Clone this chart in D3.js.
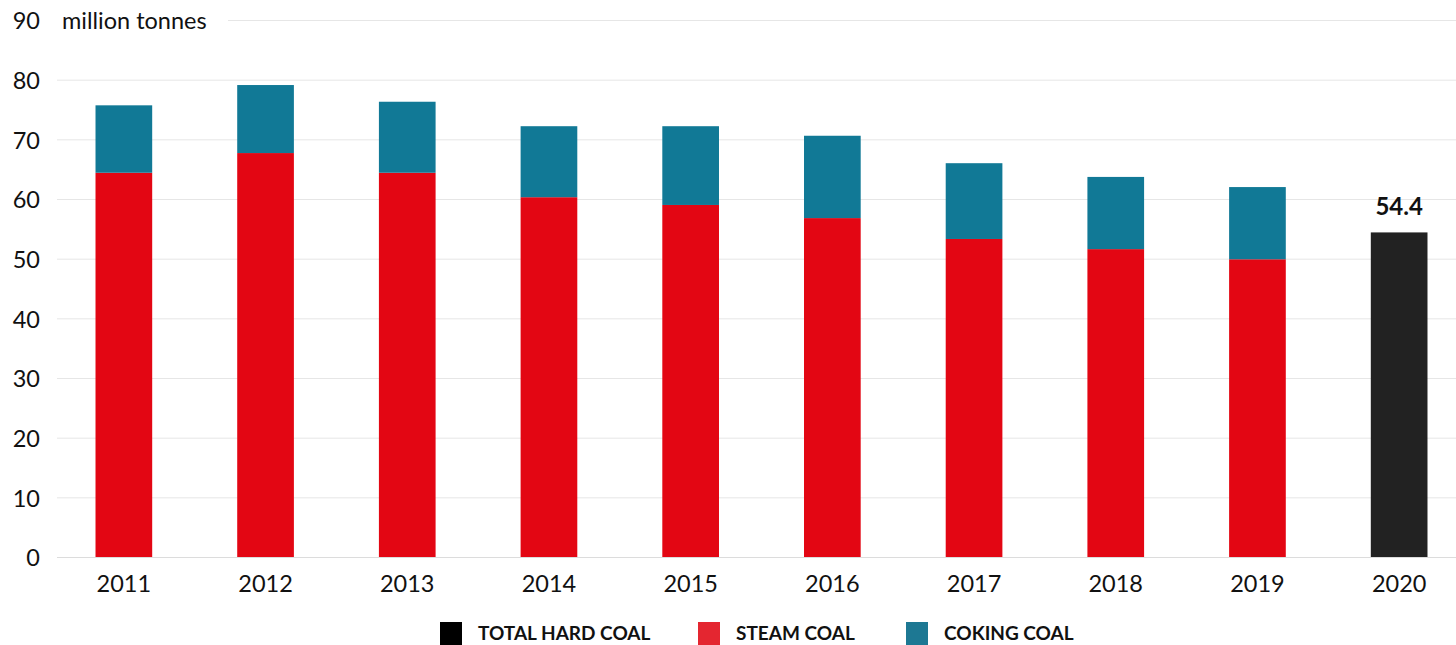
<!DOCTYPE html>
<html lang="en">
<head>
    <meta charset="UTF-8">
    <script src="https://d3js.org/d3.v7.min.js"></script>
    <style>
        body { margin: 0; background: #fff; font-family: Lato, "Noto Sans", sans-serif; }
    </style>
    <title>Hard coal production</title>
</head>
<body>
<div id="chart"></div>
<script>
    // data (million tonnes)
    var years = ["2011", "2012", "2013", "2014", "2015", "2016", "2017", "2018", "2019", "2020"];
    var steamCoal = [64.4, 67.7, 64.4, 60.3, 59.0, 56.8, 53.3, 51.6, 49.9, null];
    var cokingCoal = [11.3, 11.4, 11.9, 11.9, 13.2, 13.8, 12.7, 12.1, 12.1, null];
    var totalHardCoal = [null, null, null, null, null, null, null, null, null, 54.4];
    var yTicks = [0, 10, 20, 30, 40, 50, 60, 70, 80, 90];
    var legendItems = ["TOTAL HARD COAL", "STEAM COAL", "COKING COAL"];

    var colors = {
        "TOTAL HARD COAL": "#222222",
        "STEAM COAL": "#e30613",
        "COKING COAL": "#117996"
    };
    var legendColors = {
        "TOTAL HARD COAL": "#000000",
        "STEAM COAL": "#e42630",
        "COKING COAL": "#1d7893"
    };

    var width = 1456, height = 645;
    var margin = {top: 20, right: 0, bottom: 88, left: 57};
    var fontSize = 23.5;

    var svg = d3.select("#chart").append("svg")
        .attr("width", width)
        .attr("height", height)
        .attr("viewBox", [0, 0, width, height]);

    var y = d3.scaleLinear()
        .domain([0, 90])
        .range([height - margin.bottom, margin.top]);

    var x = d3.scaleBand()
        .domain(years)
        .range([53, 1470])
        .paddingInner(0.6)
        .paddingOuter(0.3);

    // gridlines + y labels
    var yAxis = g => g
        .attr("transform", `translate(${margin.left},0)`)
        .call(d3.axisLeft(y).tickValues(yTicks).tickSize(0).tickPadding(17))
        .call(g => g.select(".domain").remove())
        .call(g => g.selectAll(".tick text")
            .attr("font-family", "Lato, sans-serif")
            .attr("font-size", fontSize)
            .attr("fill", "#111")
            .attr("dy", "0.38em"))
        .call(g => g.selectAll(".tick").append("line")
            .attr("x1", d => d === 90 ? 171 : 0)
            .attr("x2", width - margin.left)
            .attr("stroke", d => d === 0 ? "#dcdcdc" : "#e6e6e6")
            .attr("stroke-width", 1));

    svg.append("g").call(yAxis);

    svg.append("text")
        .attr("x", 62)
        .attr("y", y(90))
        .attr("dy", "0.38em")
        .attr("font-size", fontSize)
        .attr("fill", "#111")
        .text("million tonnes");

    // stacked bars
    var data = years.map((yr, i) => ({
        year: yr,
        steam: steamCoal[i] || 0,
        coking: cokingCoal[i] || 0,
        total: totalHardCoal[i] || 0
    }));

    var series = d3.stack().keys(["steam", "coking"])(data);
    var keyColor = {steam: colors["STEAM COAL"], coking: colors["COKING COAL"]};

    svg.append("g")
        .selectAll("g")
        .data(series)
        .join("g")
        .attr("fill", d => keyColor[d.key])
        .selectAll("rect")
        .data(d => d.filter(v => v[1] > v[0]))
        .join("rect")
        .attr("x", d => x(d.data.year))
        .attr("y", d => y(d[1]))
        .attr("width", x.bandwidth())
        .attr("height", d => y(d[0]) - y(d[1]));

    var totals = data.filter(d => d.total > 0);

    svg.append("g")
        .selectAll("rect")
        .data(totals)
        .join("rect")
        .attr("x", d => x(d.year))
        .attr("y", d => y(d.total))
        .attr("width", x.bandwidth())
        .attr("height", d => y(0) - y(d.total))
        .attr("fill", colors["TOTAL HARD COAL"]);

    svg.append("g")
        .selectAll("text")
        .data(totals)
        .join("text")
        .attr("x", d => x(d.year) + x.bandwidth() / 2)
        .attr("y", d => y(d.total) - 17)
        .attr("text-anchor", "middle")
        .attr("font-weight", "bold")
        .attr("font-size", 24)
        .attr("fill", "#111")
        .text(d => d.total.toFixed(1));

    // x axis labels
    svg.append("g")
        .attr("transform", `translate(0,${y(0)})`)
        .call(d3.axisBottom(x).tickSize(0).tickPadding(18))
        .call(g => g.select(".domain").remove())
        .call(g => g.selectAll(".tick text")
            .attr("font-family", "Lato, sans-serif")
            .attr("font-size", fontSize)
            .attr("fill", "#111"));

    // legend
    var legendX = [440, 698, 906];
    var legend = svg.append("g")
        .selectAll("g")
        .data(legendItems)
        .join("g")
        .attr("transform", (d, i) => `translate(${legendX[i]},622)`);

    legend.append("rect")
        .attr("width", 22)
        .attr("height", 23)
        .attr("fill", d => legendColors[d]);

    legend.append("text")
        .attr("x", 38)
        .attr("y", 18)
        .attr("font-weight", "bold")
        .attr("font-size", 19)
        .attr("fill", "#111")
        .text(d => d);
</script>
</body>
</html>
